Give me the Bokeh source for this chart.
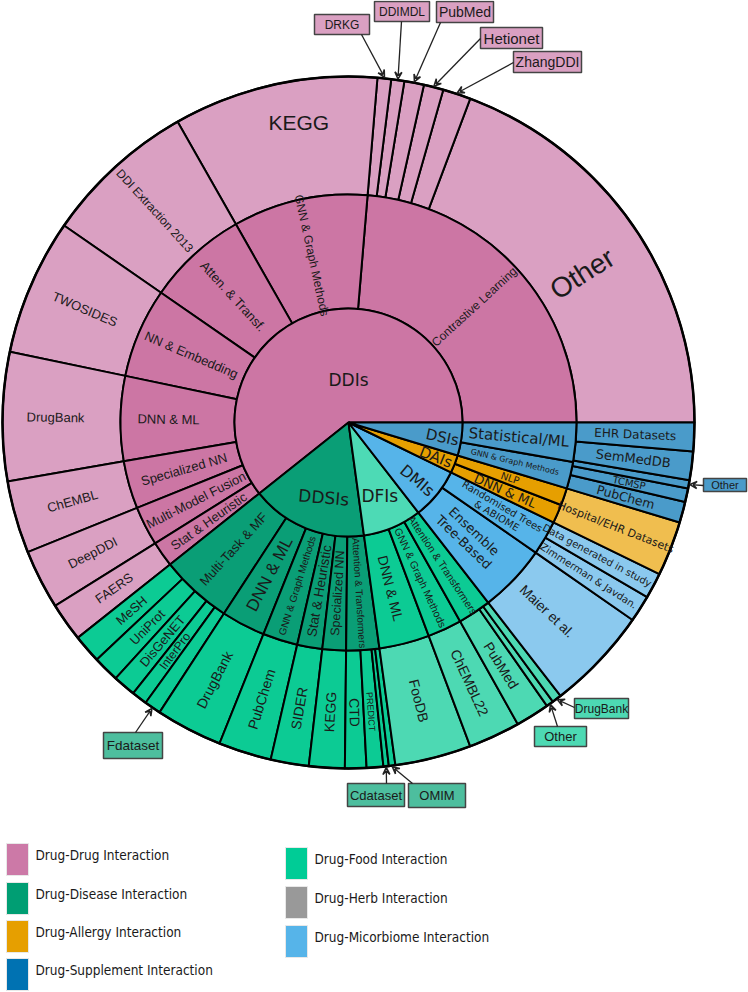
import math
from bokeh.plotting import figure
from bokeh.models import Range1d, Arrow, VeeHead
from bokeh.core.properties import value
from bokeh.embed import file_html
from bokeh.resources import INLINE

# ---------------- data (anticlockwise from 3 o'clock) ----------------
groups = ["DDIs", "DDSIs", "DFIs", "DMIs", "DAIs", "DSIs"]

ddi_methods = ["Contrastive Learning", "GNN & Graph Methods", "Atten. & Transf.", "NN & Embedding",
               "DNN & ML", "Specialized NN", "Multi-Model Fusion", "Stat & Heuristic"]
ddi_method_values = [85.2, 34.4, 25.7, 22.9, 21.6, 12.2, 10.0, 6.5]
ddi_datasets = ["Other", "ZhangDDI", "Hetionet", "PubMed", "DDIMDL", "DRKG", "KEGG",
                "DDI Extraction 2013", "TWOSIDES", "DrugBank", "ChEMBL", "DeepDDI", "FAERS"]
ddi_dataset_values = [69.4, 4.7, 3.3, 3.3, 2.2, 2.3, 34.4, 25.7, 22.9, 21.6, 12.2, 10.0, 6.5]

ddsi_methods = ["Multi-Task & MF", "DNN & ML", "GNN & Graph Methods", "Stat & Heuristic",
                "Specialized NN", "Attention & Transformers"]
ddsi_method_values = [18.4, 11.2, 8.9, 6.4, 6.0, 8.4]
ddsi_datasets = ["MeSH", "UniProt", "DisGeNET", "InterPro", "Fdataset", "DrugBank", "PubChem",
                 "SIDER", "KEGG", "CTD", "PREDICT", "Cdataset", "OMIM"]
ddsi_dataset_values = [4.8, 4.4, 3.8, 2.6, 2.8, 11.2, 8.9, 6.4, 6.0, 3.6, 2.8, 0.9, 1.1]

dfi_methods = ["DNN & ML", "GNN & Graph Methods", "Attention & Transformers"]
dfi_method_values = [12.8, 8.7, 8.5]
dfi_datasets = ["FooDB", "ChEMBL22", "PubMed", "Other", "DrugBank"]
dfi_dataset_values = [12.8, 8.7, 5.7, 1.2, 1.6]

dmi_methods = ["Ensemble\nTree-Based", "Randomised Trees\n& ABIOME"]
dmi_method_values = [17.4, 8.8]
dmi_datasets = ["Maier et al.", "Zimmerman & Javdan.", "Data generated in study"]
dmi_dataset_values = [17.4, 4.5, 4.3]

dai_methods = ["DNN & ML", "NLP"]
dai_method_values = [4.8, 4.4]
dai_datasets = ["Hospital/EHR Datasets"]
dai_dataset_values = [9.2]

dsi_methods = ["GNN & Graph Methods", "Statistical/ML"]
dsi_method_values = [6.8, 10.0]
dsi_datasets = ["PubChem", "TCMSP", "Other", "SemMedDB", "EHR Datasets"]
dsi_dataset_values = [3.5, 2.3, 1.4, 4.8, 4.8]

legend_labels = ["Drug-Drug Interaction", "Drug-Disease Interaction", "Drug-Allergy Interaction",
                 "Drug-Supplement Interaction", "Drug-Food Interaction", "Drug-Herb Interaction",
                 "Drug-Micorbiome Interaction"]
legend_colors = ["#CC79A7", "#009E73", "#E69F00", "#0072B2", "#00CC96", "#999999", "#56B4E9"]

# ---------------- styles ----------------
LIB = "Liberation Sans"
DJV = "DejaVu Sans"
colors = {  # level1, level2, level3
    "DDIs": ("#CC76A4", "#CC76A4", "#DAA0C2"),
    "DDSIs": ("#0A9E76", "#0A9E76", "#0CCB94"),
    "DFIs": ("#4DDAB5", "#0CCB94", "#4DD9B3"),
    "DMIs": ("#56B4E9", "#56B4E9", "#8BC9EE"),
    "DAIs": ("#E69F00", "#E69F00", "#F0BE4F"),
    "DSIs": ("#4A9BCA", "#4A9BCA", "#4A9BCA"),
}

H = 992
CX, CY = 348, H - 422
R1, R2, R3 = 114, 228, 346

p = figure(width=748, height=992, x_range=Range1d(0, 748), y_range=Range1d(0, 992),
           output_backend="svg", toolbar_location=None, min_border=0)
p.axis.visible = False
p.grid.visible = False
p.outline_line_color = None
p.background_fill_color = "white"

tree = [
    ("DDIs", ddi_methods, ddi_method_values, ddi_datasets, ddi_dataset_values),
    ("DDSIs", ddsi_methods, ddsi_method_values, ddsi_datasets, ddsi_dataset_values),
    ("DFIs", dfi_methods, dfi_method_values, dfi_datasets, dfi_dataset_values),
    ("DMIs", dmi_methods, dmi_method_values, dmi_datasets, dmi_dataset_values),
    ("DAIs", dai_methods, dai_method_values, dai_datasets, dai_dataset_values),
    ("DSIs", dsi_methods, dsi_method_values, dsi_datasets, dsi_dataset_values),
]
total = sum(sum(t[2]) for t in tree)
k = 360.0 / total

span1, span2, span3 = {}, {}, {}
l1 = dict(s=[], e=[], c=[])
l2 = dict(s=[], e=[], c=[])
l3 = dict(s=[], e=[], c=[])
a = 0.0
for g, ms, mv, ds, dv in tree:
    g0 = a
    g1 = a + sum(mv) * k
    span1[g] = (g0, g1)
    l1["s"].append(math.radians(g0)); l1["e"].append(math.radians(g1)); l1["c"].append(colors[g][0])
    b = g0
    for m, v in zip(ms, mv):
        span2[(g, m)] = (b, b + v * k)
        l2["s"].append(math.radians(b)); l2["e"].append(math.radians(b + v * k)); l2["c"].append(colors[g][1])
        b += v * k
    b = g0
    for d, v in zip(ds, dv):
        span3[(g, d)] = (b, b + v * k)
        l3["s"].append(math.radians(b)); l3["e"].append(math.radians(b + v * k)); l3["c"].append(colors[g][2])
        b += v * k
    a = g1

p.annular_wedge(x=CX, y=CY, inner_radius=R2, outer_radius=R3, start_angle=l3["s"], end_angle=l3["e"],
                fill_color=l3["c"], line_color="black", line_width=2)
p.annular_wedge(x=CX, y=CY, inner_radius=R1, outer_radius=R2, start_angle=l2["s"], end_angle=l2["e"],
                fill_color=l2["c"], line_color="black", line_width=2)
p.wedge(x=CX, y=CY, radius=R1, start_angle=l1["s"], end_angle=l1["e"],
        fill_color=l1["c"], line_color="black", line_width=2)
p.circle(x=CX, y=CY, radius=R3, fill_color=None, line_color="black", line_width=2.5)


def radial_rot(ang):
    ang = ang % 360
    if ang <= 90 or ang > 270:
        return ang if ang <= 90 else ang - 360
    return ang - 180


def put(text, ang, r, size, font=LIB, rot=None):
    x = CX + r * math.cos(math.radians(ang))
    y = CY + r * math.sin(math.radians(ang))
    rr = radial_rot(ang) if rot is None else rot
    p.text(x=[x], y=[y], text=[text], angle=math.radians(rr), text_align="center",
           text_baseline="middle", text_font=value(font), text_font_size=f"{size}px",
           text_color="#1a1a1a", text_line_height=1.0)


# level 1 labels (angle, radius, rotation, size)
l1_style = {"DDIs": (90, 43, 0, 17), "DDSIs": (251.7, 79, -5, 17), "DFIs": (293, 80, 0, 17),
            "DMIs": (319.8, 90, None, 16), "DAIs": (338.3, 94, None, 15), "DSIs": (351, 95, -12, 15)}
for g in groups:
    ang, r, rot, sz = l1_style[g]
    put(g, ang, r, sz, DJV, rot)

# level 2 labels: size, font, radius
l2_style = {
    ("DDIs", "Contrastive Learning"): (12, LIB, 171), ("DDIs", "GNN & Graph Methods"): (12, LIB, 171),
    ("DDIs", "Atten. & Transf."): (13, LIB, 171), ("DDIs", "NN & Embedding"): (13, LIB, 171),
    ("DDIs", "DNN & ML"): (13, LIB, 180), ("DDIs", "Specialized NN"): (13, LIB, 171),
    ("DDIs", "Multi-Model Fusion"): (13, LIB, 171), ("DDIs", "Stat & Heuristic"): (13, LIB, 171),
    ("DDSIs", "Multi-Task & MF"): (13, LIB, 171), ("DDSIs", "DNN & ML"): (17, LIB, 171),
    ("DDSIs", "GNN & Graph Methods"): (10, LIB, 171), ("DDSIs", "Stat & Heuristic"): (13.5, LIB, 171),
    ("DDSIs", "Specialized NN"): (12.5, LIB, 171), ("DDSIs", "Attention & Transformers"): (10, LIB, 171),
    ("DFIs", "DNN & ML"): (14, LIB, 171), ("DFIs", "GNN & Graph Methods"): (10.5, LIB, 171),
    ("DFIs", "Attention & Transformers"): (10.5, LIB, 171),
    ("DMIs", "Ensemble\nTree-Based"): (13, DJV, 166), ("DMIs", "Randomised Trees\n& ABIOME"): (10, DJV, 175),
    ("DAIs", "DNN & ML"): (13, DJV, 171), ("DAIs", "NLP"): (10, DJV, 171),
    ("DSIs", "GNN & Graph Methods"): (8, DJV, 171), ("DSIs", "Statistical/ML"): (15, DJV, 171),
}
for (g, m), (sz, f, r) in l2_style.items():
    s, e = span2[(g, m)]
    put(m, (s + e) / 2, r, sz, f)

# level 3 labels: size, font, radius, angle override, rotation override
l3_style = {
    ("DDIs", "Other"): (28, LIB, 277, 32.5, None), ("DDIs", "KEGG"): (21, LIB, 304, 99.4, 0),
    ("DDIs", "DDI Extraction 2013"): (12, LIB, 287, None, None), ("DDIs", "TWOSIDES"): (13, LIB, 287, None, None),
    ("DDIs", "DrugBank"): (13, LIB, 293, None, None), ("DDIs", "ChEMBL"): (13, LIB, 287, None, None),
    ("DDIs", "DeepDDI"): (13, LIB, 287, None, None), ("DDIs", "FAERS"): (13, LIB, 287, None, None),
    ("DDSIs", "MeSH"): (13, LIB, 287, None, None), ("DDSIs", "UniProt"): (13, LIB, 287, None, None),
    ("DDSIs", "DisGeNET"): (13, LIB, 287, None, None), ("DDSIs", "InterPro"): (12, LIB, 287, None, None),
    ("DDSIs", "DrugBank"): (14, LIB, 290, None, None), ("DDSIs", "PubChem"): (14, LIB, 290, None, None),
    ("DDSIs", "SIDER"): (14, LIB, 290, None, None), ("DDSIs", "KEGG"): (14, LIB, 290, None, None),
    ("DDSIs", "CTD"): (14, LIB, 290, None, None), ("DDSIs", "PREDICT"): (9, LIB, 290, None, None),
    ("DFIs", "FooDB"): (14, LIB, 287, None, None), ("DFIs", "ChEMBL22"): (14, LIB, 287, None, None),
    ("DFIs", "PubMed"): (14, LIB, 287, None, None),
    ("DMIs", "Maier et al."): (14, LIB, 274, None, None),
    ("DMIs", "Zimmerman & Javdan."): (10, DJV, 285, None, None),
    ("DMIs", "Data generated in study"): (10, DJV, 282, None, None),
    ("DAIs", "Hospital/EHR Datasets"): (11, DJV, 287, None, None),
    ("DSIs", "PubChem"): (12.5, DJV, 287, None, None), ("DSIs", "TCMSP"): (10, DJV, 287, None, None),
    ("DSIs", "SemMedDB"): (13, DJV, 287, None, None), ("DSIs", "EHR Datasets"): (12, DJV, 287, None, None),
}
for (g, d), (sz, f, r, ang, rot) in l3_style.items():
    s, e = span3[(g, d)]
    put(d, (s + e) / 2 if ang is None else ang, r, sz, f, rot)

# call-out boxes: (group, dataset) -> box (x0, y0_img, x1, y1_img), arrow start (img), size, fill
callouts = [
    (("DDIs", "DRKG"), (314, 14, 369, 34), (361, 34), 12, "#DAA0C2"),
    (("DDIs", "DDIMDL"), (374, 1, 429, 21), (401, 21), 12, "#DAA0C2"),
    (("DDIs", "PubMed"), (436, 1, 493, 22), (440, 22), 14, "#DAA0C2"),
    (("DDIs", "Hetionet"), (480, 27, 542, 48), (480, 38), 15, "#DAA0C2"),
    (("DDIs", "ZhangDDI"), (513, 51, 581, 72), (513, 62), 14, "#DAA0C2"),
    (("DDSIs", "Fdataset"), (103, 732, 162, 758), (135, 732), 13.5, "#4DBE9E"),
    (("DDSIs", "Cdataset"), (347, 783, 404, 806), (386, 783), 13, "#4DBE9E"),
    (("DDSIs", "OMIM"), (408, 783, 465, 807), (412, 783), 13, "#4DBE9E"),
    (("DFIs", "DrugBank"), (574, 698, 628, 718), (574, 707), 12, "#4DD9B3"),
    (("DFIs", "Other"), (534, 726, 586, 746), (557, 726), 13, "#4DD9B3"),
    (("DSIs", "Other"), (703, 478, 746, 491), (703, 485), 11, "#4A9BCA"),
]
for key, (x0, y0, x1, y1), (sx, sy), sz, fc in callouts:
    s, e = span3[key]
    m = math.radians((s + e) / 2)
    ex, ey = CX + (R3 + 1) * math.cos(m), CY + (R3 + 1) * math.sin(m)
    p.add_layout(Arrow(end=VeeHead(size=7, line_color="#222222", line_width=1.5, fill_color=None),
                       x_start=sx, y_start=H - sy, x_end=ex, y_end=ey,
                       line_color="#222222", line_width=1.3))
    p.quad(left=x0, right=x1, bottom=H - y1, top=H - y0, fill_color=fc,
           line_color="#444444", line_width=1.5)
    p.text(x=[(x0 + x1) / 2], y=[H - (y0 + y1) / 2], text=[key[1]], text_align="center",
           text_baseline="middle", text_font=value(LIB), text_font_size=f"{sz}px", text_color="#1a1a1a")

# legend
leg_x = [6, 6, 6, 6, 285, 285, 285]
leg_y = [843, 882, 920, 958, 847, 886, 925]
for lab, col, lx, ly in zip(legend_labels, legend_colors, leg_x, leg_y):
    p.quad(left=lx, right=lx + 22, top=H - ly, bottom=H - ly - 32, fill_color=col,
           line_color="#e8e8e8", line_width=1)
    p.text(x=[lx + 29], y=[H - ly - 11], text=[lab], text_align="left", text_baseline="middle",
           text_font=value("DejaVu Sans Condensed"), text_font_size="13.5px", text_color="#1a1a1a")

open("out.html", "w").write(file_html(p, INLINE))
